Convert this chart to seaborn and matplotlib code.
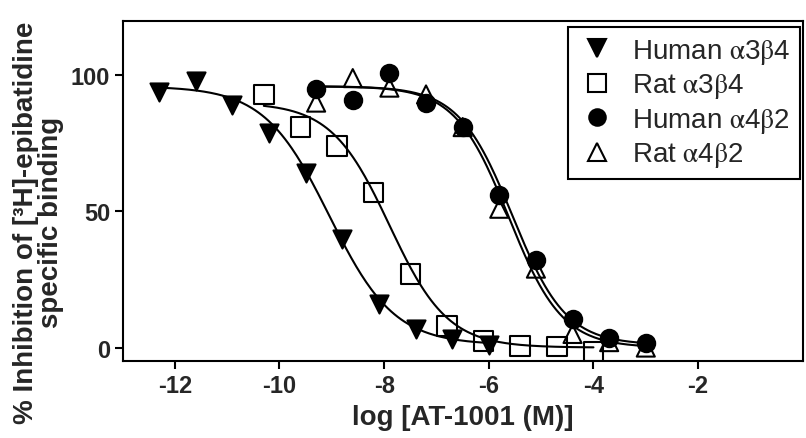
import matplotlib
matplotlib.use("Agg")
import matplotlib.pyplot as plt
from matplotlib.lines import Line2D
import seaborn as sns
import numpy as np
import pandas as pd

# log [AT-1001 (M)] and % inhibition
human_a3b4_x = [-12.3, -11.6, -10.9, -10.2, -9.5, -8.8, -8.1, -7.4, -6.7, -6.0]
human_a3b4_y = [94, 98, 89, 79, 64, 40, 16, 7, 3, 1]

rat_a3b4_x = [-10.3, -9.6, -8.9, -8.2, -7.5, -6.8, -6.1, -5.4, -4.7, -4.0]
rat_a3b4_y = [93, 81, 74, 57, 27, 8, 2.4, 0.5, 0.3, -1.5]

human_a4b2_x = [-9.3, -8.6, -7.9, -7.2, -6.5, -5.8, -5.1, -4.4, -3.7, -3.0]
human_a4b2_y = [95, 91, 101, 90, 81, 56, 32, 10.5, 3.5, 1.5]

rat_a4b2_x = [-9.3, -8.6, -7.9, -7.2, -6.5, -5.8, -5.1, -4.4, -3.7, -3.0]
rat_a4b2_y = [90, 99, 95.5, 93, 81, 51, 29, 5, 2, 0]

# fitted sigmoid parameters: top, bottom, logIC50, hill slope
fit_params = {
    "Human α3β4": (96, 1, -9.05, 0.70),
    "Rat α3β4": (90, 0, -7.90, 0.78),
    "Human α4β2": (96, 1, -5.55, 0.85),
    "Rat α4β2": (96, 0, -5.62, 0.85),
}

series = [
    ("Human α3β4", human_a3b4_x, human_a3b4_y, "v", "black"),
    ("Rat α3β4", rat_a3b4_x, rat_a3b4_y, "s", "none"),
    ("Rat α4β2", rat_a4b2_x, rat_a4b2_y, "^", "none"),
    ("Human α4β2", human_a4b2_x, human_a4b2_y, "o", "black"),
]
legend_order = ["Human α3β4", "Rat α3β4", "Human α4β2", "Rat α4β2"]
# upright serif greek letters, digits in the sans face
legend_text = {
    "Human α3β4": r"Human $\mathrm{\alpha}$3$\mathrm{\beta}$4",
    "Rat α3β4": r"Rat $\mathrm{\alpha}$3$\mathrm{\beta}$4",
    "Human α4β2": r"Human $\mathrm{\alpha}$4$\mathrm{\beta}$2",
    "Rat α4β2": r"Rat $\mathrm{\alpha}$4$\mathrm{\beta}$2",
}

sns.set_theme(style="ticks")
plt.rcParams["font.family"] = ["Liberation Sans", "DejaVu Sans"]
plt.rcParams["mathtext.fontset"] = "stix"
plt.rcParams["axes.unicode_minus"] = False

fig = plt.figure(figsize=(8.06, 4.39), dpi=100)
ax = fig.add_axes([0.152, 0.175, 0.844, 0.775])

# curves first, then the symbols on top
for name, xs, ys, mk, fc in series:
    top, bottom, logic50, hill = fit_params[name]
    xf = np.linspace(min(xs), max(xs), 200)
    yf = bottom + (top - bottom) / (1 + 10 ** (hill * (xf - logic50)))
    curve = pd.DataFrame({"x": xf, "y": yf})
    sns.lineplot(data=curve, x="x", y="y", ax=ax, color="black", lw=1.5,
                 legend=False)

marker_size = {"v": 13, "s": 14, "^": 13, "o": 12.5}
handles = {}
for name, xs, ys, mk, fc in series:
    pts = pd.DataFrame({"x": xs, "y": ys})
    sns.scatterplot(data=pts, x="x", y="y", ax=ax, marker=mk,
                    s=marker_size[mk] ** 2, facecolor=fc, edgecolor="black",
                    linewidth=1.5, legend=False, zorder=3)
    handles[name] = Line2D([], [], ls="", marker=mk, ms=marker_size[mk] * 0.95,
                           mfc=fc, mec="black", mew=1.5)

ax.set_xlim(-13, 0)
ax.set_ylim(-5, 120)
ax.set_xticks([-12, -10, -8, -6, -4, -2])
ax.set_yticks([0, 50, 100])
ax.tick_params(direction="out", length=6, width=1.5, labelsize=17, pad=3,
               color="black")
for lab in ax.get_xticklabels() + ax.get_yticklabels():
    lab.set_fontweight("bold")
for sp in ax.spines.values():
    sp.set_linewidth(1.5)
    sp.set_color("black")

ax.set_xlabel("log [AT-1001 (M)]", fontsize=20, fontweight="bold", labelpad=5)
ax.set_ylabel("% Inhibition of [³H]-epibatidine\nspecific binding",
              fontsize=20, fontweight="bold", linespacing=0.95)
ax.yaxis.set_label_coords(-0.086, 0.41)

leg = ax.legend([handles[n] for n in legend_order],
                [legend_text[n] for n in legend_order],
                loc="upper right", bbox_to_anchor=(0.9956, 0.982),
                fontsize=20, frameon=True, fancybox=False,
                edgecolor="black", framealpha=1, borderaxespad=0,
                handlelength=1.4, handletextpad=0.55, labelspacing=0.2,
                borderpad=0.35)
leg.get_frame().set_linewidth(1.5)

fig.savefig("out.png", dpi=100)
